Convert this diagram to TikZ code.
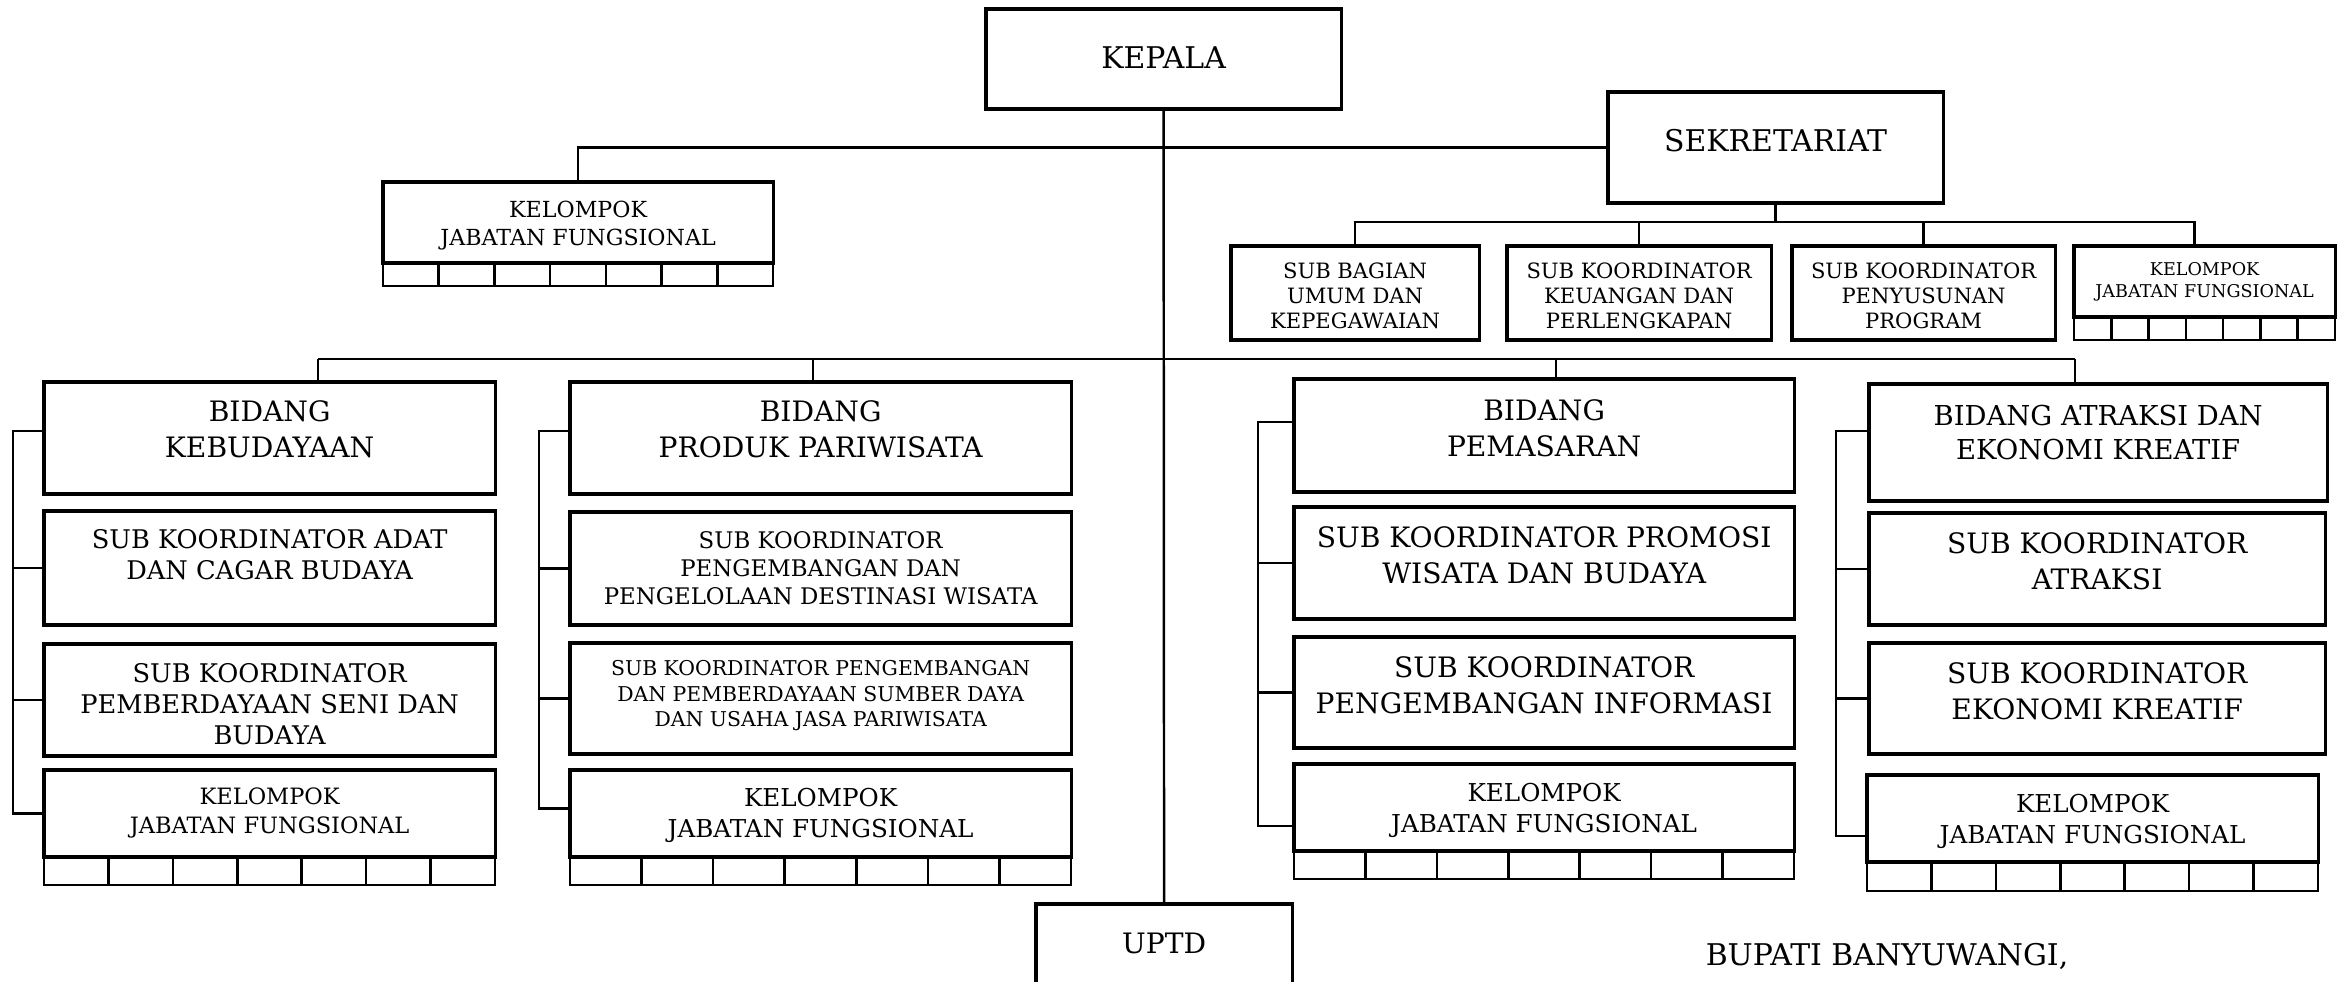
\documentclass[tikz,border=0pt]{standalone}
\usepackage{fontspec}
\setmainfont{DejaVu Serif}
\usetikzlibrary{positioning}

\begin{document}
\begin{tikzpicture}[x=0.01cm,y=-0.01cm,
    box/.style={draw,line width=0.9pt,inner sep=0pt,outer sep=0pt,anchor=north west},
    txt/.style={align=center,inner sep=0pt},
    link/.style={line width=0.7pt},
    cell/.style={line width=0.7pt},
    f85/.style={font=\fontsize{8.5pt}{11pt}\selectfont},
    f80/.style={font=\fontsize{8pt}{10.2pt}\selectfont},
    f78/.style={font=\fontsize{7.8pt}{9.9pt}\selectfont},
    f73/.style={font=\fontsize{7.3pt}{8.8pt}\selectfont},
    f70/.style={font=\fontsize{7pt}{8.6pt}\selectfont},
    f65/.style={font=\fontsize{6.5pt}{8pt}\selectfont},
    f64/.style={font=\fontsize{6.4pt}{8.2pt}\selectfont},
    f63/.style={font=\fontsize{6.3pt}{8.2pt}\selectfont},
    f60/.style={font=\fontsize{6pt}{7.1pt}\selectfont},
    f58/.style={font=\fontsize{5.8pt}{7.2pt}\selectfont},
    f50/.style={font=\fontsize{5pt}{6.2pt}\selectfont}]
  \useasboundingbox (0,0) rectangle (2345,982);
  \clip (0,0) rectangle (2345,982);

  % top
  \node[box,minimum width=3.55cm,minimum height=1.00cm] (kepala) at (986,9) {};
  \node[box,minimum width=3.35cm,minimum height=1.11cm] (sek) at (1608,92) {};
  \node[box,minimum width=3.90cm,minimum height=0.81cm] (kjf) at (383,182) {};
  \node[box,minimum width=2.48cm,minimum height=0.94cm] (umum) at (1231,246) {};
  \node[box,minimum width=2.64cm,minimum height=0.94cm] (keu) at (1507,246) {};
  \node[box,minimum width=2.63cm,minimum height=0.94cm] (prog) at (1792,246) {};
  \node[box,minimum width=2.61cm,minimum height=0.71cm] (sekjf) at (2074,246) {};

  % bidang
  \node[box,minimum width=4.51cm,minimum height=1.12cm] (bud) at (44,382) {};
  \node[box,minimum width=4.51cm,minimum height=1.14cm] (adat) at (44,511) {};
  \node[box,minimum width=4.51cm,minimum height=1.12cm] (seni) at (44,644) {};
  \node[box,minimum width=4.51cm,minimum height=0.87cm] (budjf) at (44,770) {};
  \node[box,minimum width=5.01cm,minimum height=1.12cm] (prod) at (570,382) {};
  \node[box,minimum width=5.01cm,minimum height=1.13cm] (dest) at (570,512) {};
  \node[box,minimum width=5.01cm,minimum height=1.11cm] (sdm) at (570,643) {};
  \node[box,minimum width=5.01cm,minimum height=0.87cm] (prodjf) at (570,770) {};
  \node[box,minimum width=5.00cm,minimum height=1.13cm] (pem) at (1294,379) {};
  \node[box,minimum width=5.00cm,minimum height=1.12cm] (promo) at (1294,507) {};
  \node[box,minimum width=5.00cm,minimum height=1.11cm] (info) at (1294,637) {};
  \node[box,minimum width=5.00cm,minimum height=0.87cm] (pemjf) at (1294,764) {};
  \node[box,minimum width=4.58cm,minimum height=1.17cm] (atr) at (1869,384) {};
  \node[box,minimum width=4.56cm,minimum height=1.12cm] (atrk) at (1869,513) {};
  \node[box,minimum width=4.56cm,minimum height=1.11cm] (ekraf) at (1869,643) {};
  \node[box,minimum width=4.51cm,minimum height=0.87cm] (atrjf) at (1867,775) {};
  \node[box,minimum width=2.56cm,minimum height=1.20cm] (uptd) at (1036,904) {};

  % texts
  \node[txt,f85,below=0.37cm of kepala.north] (kepalat) {KEPALA};
  \node[txt,f85,below=0.37cm of sek.north] (sekt) {SEKRETARIAT};
  \node[txt,f63,below=0.18cm of kjf.north] (kjft) {KELOMPOK\\JABATAN FUNGSIONAL};
  \node[txt,f60,below=0.16cm of umum.north] (umumt) {SUB BAGIAN\\UMUM DAN\\KEPEGAWAIAN};
  \node[txt,f60,below=0.16cm of keu.north] (keut) {SUB KOORDINATOR\\KEUANGAN DAN\\PERLENGKAPAN};
  \node[txt,f60,below=0.16cm of prog.north] (progt) {SUB KOORDINATOR\\PENYUSUNAN\\PROGRAM};
  \node[txt,f50,below=0.16cm of sekjf.north] (sekjft) {KELOMPOK\\JABATAN FUNGSIONAL};
  \node[txt,f80,below=0.18cm of bud.north] (budt) {BIDANG\\KEBUDAYAAN};
  \node[txt,f73,below=0.18cm of adat.north] (adatt) {SUB KOORDINATOR ADAT\\DAN CAGAR BUDAYA};
  \node[txt,f73,below=0.19cm of seni.north] (senit) {SUB KOORDINATOR\\PEMBERDAYAAN SENI DAN\\BUDAYA};
  \node[txt,f64,below=0.17cm of budjf.north] (budjft) {KELOMPOK\\JABATAN FUNGSIONAL};
  \node[txt,f80,below=0.18cm of prod.north] (prodt) {BIDANG\\PRODUK PARIWISATA};
  \node[txt,f65,below=0.19cm of dest.north] (destt) {SUB KOORDINATOR\\PENGEMBANGAN DAN\\PENGELOLAAN DESTINASI WISATA};
  \node[txt,f58,below=0.17cm of sdm.north] (sdmt) {SUB KOORDINATOR PENGEMBANGAN\\DAN PEMBERDAYAAN SUMBER DAYA\\DAN USAHA JASA PARIWISATA};
  \node[txt,f70,below=0.18cm of prodjf.north] (prodjft) {KELOMPOK\\JABATAN FUNGSIONAL};
  \node[txt,f80,below=0.20cm of pem.north] (pemt) {BIDANG\\PEMASARAN};
  \node[txt,f80,below=0.19cm of promo.north] (promot) {SUB KOORDINATOR PROMOSI\\WISATA DAN BUDAYA};
  \node[txt,f80,below=0.19cm of info.north] (infot) {SUB KOORDINATOR\\PENGEMBANGAN INFORMASI};
  \node[txt,f70,below=0.19cm of pemjf.north] (pemjft) {KELOMPOK\\JABATAN FUNGSIONAL};
  \node[txt,f78,below=0.20cm of atr.north] (atrt) {BIDANG ATRAKSI DAN\\EKONOMI KREATIF};
  \node[txt,f80,below=0.19cm of atrk.north] (atrkt) {SUB KOORDINATOR\\ATRAKSI};
  \node[txt,f80,below=0.19cm of ekraf.north] (ekraft) {SUB KOORDINATOR\\EKONOMI KREATIF};
  \node[txt,f70,below=0.19cm of atrjf.north] (atrjft) {KELOMPOK\\JABATAN FUNGSIONAL};
  \node[txt,f80,below=0.28cm of uptd.north] (uptdt) {UPTD};
  \node[txt,f85,anchor=base] (bupati) at (1887,965) {BUPATI BANYUWANGI,};

  % cells
  \draw[cell] (kjf.south west) rectangle (773,286)
    (438.7,263) -- (438.7,286) (494.4,263) -- (494.4,286) (550.1,263) -- (550.1,286)
    (605.9,263) -- (605.9,286) (661.6,263) -- (661.6,286) (717.3,263) -- (717.3,286);
  \draw[cell] (sekjf.south west) rectangle (2335,340)
    (2111.3,317) -- (2111.3,340) (2148.6,317) -- (2148.6,340) (2185.9,317) -- (2185.9,340)
    (2223.1,317) -- (2223.1,340) (2260.4,317) -- (2260.4,340) (2297.7,317) -- (2297.7,340);
  \draw[cell] (budjf.south west) rectangle (495,885)
    (108.4,857) -- (108.4,885) (172.9,857) -- (172.9,885) (237.3,857) -- (237.3,885)
    (301.7,857) -- (301.7,885) (366.1,857) -- (366.1,885) (430.6,857) -- (430.6,885);
  \draw[cell] (prodjf.south west) rectangle (1071,885)
    (641.6,857) -- (641.6,885) (713.1,857) -- (713.1,885) (784.7,857) -- (784.7,885)
    (856.3,857) -- (856.3,885) (927.9,857) -- (927.9,885) (999.4,857) -- (999.4,885);
  \draw[cell] (pemjf.south west) rectangle (1794,879)
    (1365.4,851) -- (1365.4,879) (1436.9,851) -- (1436.9,879) (1508.3,851) -- (1508.3,879)
    (1579.7,851) -- (1579.7,879) (1651.1,851) -- (1651.1,879) (1722.6,851) -- (1722.6,879);
  \draw[cell] (atrjf.south west) rectangle (2318,891)
    (1931.4,862) -- (1931.4,891) (1995.9,862) -- (1995.9,891) (2060.3,862) -- (2060.3,891)
    (2124.7,862) -- (2124.7,891) (2189.1,862) -- (2189.1,891) (2253.6,862) -- (2253.6,891);

  \begin{scope}[link]
    \draw (kjf.north) |- (sek.west);
    \draw (kepala.south) -- (uptd.north);
    \draw (sek.south) -- ++(0,19);
    \draw (umum.north) -- ++(0,-24) -| ([xshift=-0.1cm]sekjf.north);
    \draw (keu.north) -- ++(0,-24);
    \draw (prog.north) -- ++(0,-24);
    \coordinate (busa) at (318,359);
    \coordinate (busb) at (813,359);
    \coordinate (busc) at (1556,359);
    \coordinate (busd) at (2075,359);
    \draw (busa) -- (busd);
    \draw (busa) -- (busa |- bud.north);
    \draw (busb) -- (busb |- prod.north);
    \draw (busc) -- (busc |- pem.north);
    \draw (busd) -- (busd |- atr.north);
    \draw ([yshift=-0.49cm]bud.north west) -- ++(-31,0) |- (budjf.west);
    \draw (adat.west) -- ++(-31,0);
    \draw (seni.west) -- ++(-31,0);
    \draw ([yshift=-0.49cm]prod.north west) -- ++(-31,0) |- ([yshift=0.05cm]prodjf.west);
    \draw (dest.west) -- ++(-31,0);
    \draw (sdm.west) -- ++(-31,0);
    \draw ([yshift=-0.43cm]pem.north west) -- ++(-36,0) |- ([yshift=0.25cm]pemjf.south west);
    \draw (promo.west) -- ++(-36,0);
    \draw (info.west) -- ++(-36,0);
    \draw ([yshift=-0.47cm]atr.north west) -- ++(-33,0) |- ([yshift=0.26cm]atrjf.south west);
    \draw (atrk.west) -- ++(-33,0);
    \draw (ekraf.west) -- ++(-33,0);
  \end{scope}
\end{tikzpicture}
\end{document}
